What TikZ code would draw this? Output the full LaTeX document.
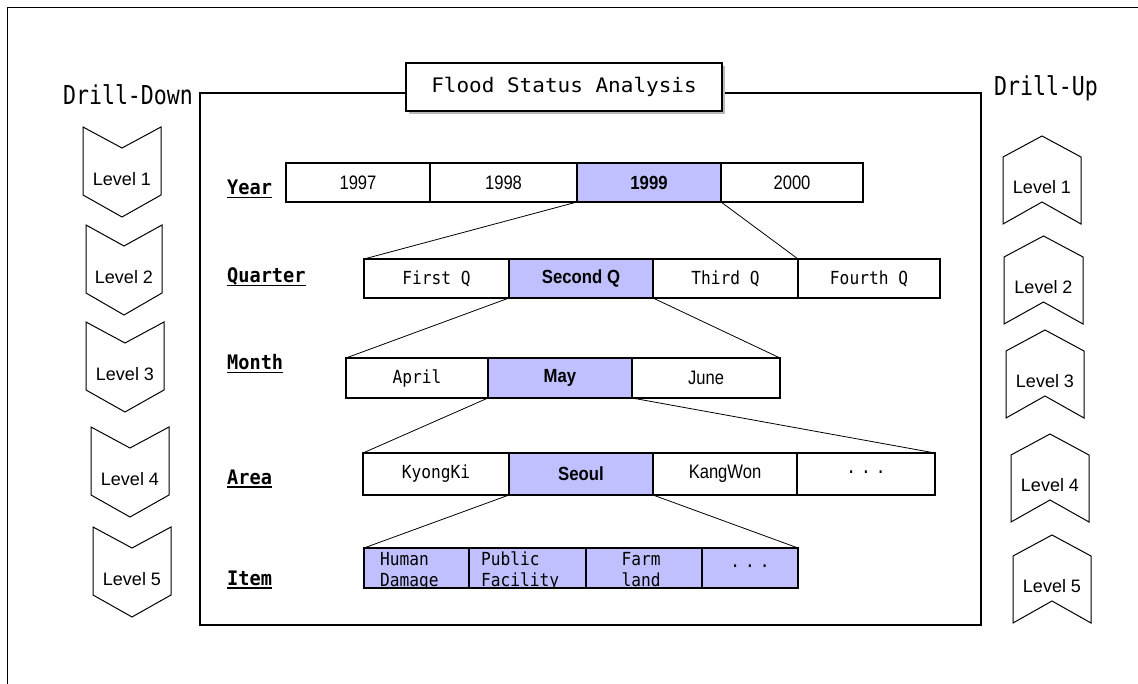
\documentclass[tikz,border=0pt]{standalone}
\usepackage{fontspec}
\setmainfont{Liberation Sans}
\newfontfamily\sansc{Liberation Sans}[FakeStretch=0.85]
\newfontfamily\sansbc{Liberation Sans Bold}[FakeStretch=0.88]
\newfontfamily\monoc{DejaVu Sans Mono}[FakeStretch=0.9]
\newfontfamily\headf{DejaVu Sans Mono}[FakeStretch=0.83]
\newfontfamily\titlef{DejaVu Sans Mono}[FakeStretch=1.05]
\newfontfamily\labelf{DejaVu Sans Mono Bold}[FakeStretch=0.93]
\definecolor{pick}{RGB}{192,192,255}
% underlined row label with a firm rule
\newcommand\rowlbl[1]{\setbox0\hbox{#1}\rlap{\raisebox{-3.5pt}{\rule{\wd0}{1.6pt}}}\box0}
\newcommand\dotsrow{\raisebox{3pt}{.\hspace{5pt}.\hspace{5pt}.}}

\tikzset{
  cell/.style={draw, line width=1.2pt, inner sep=0pt, outer sep=0pt, anchor=north west,
    fill=white, font=\sansc\fontsize{19.5}{22}\selectfont},
  sel/.style={fill=pick},
  mono/.style={font=\monoc\fontsize{18}{21}\selectfont},
  bold/.style={font=\sansbc\fontsize{19}{22}\selectfont},
  link/.style={line width=0.8pt},
  chev/.style={line width=1pt},
  lvl/.style={font=\fontsize{18}{21}\selectfont, inner sep=0pt},
  rowlabel/.style={anchor=base west, inner sep=0pt, font=\labelf\fontsize{20}{22}\selectfont},
  itemtext/.style={inner sep=0pt, font=\monoc\fontsize{18}{21}\selectfont},
  heading/.style={inner sep=0pt, font=\headf\fontsize{26}{28}\selectfont},
}

\begin{document}
\begin{tikzpicture}[x=1pt, y=-1pt]
\useasboundingbox (0,0) rectangle (1138,684);

% page frame
\draw[line width=1pt] (7,684) -- (7,8) -- (1138,8);

% main panel
\draw[line width=1.2pt] (200,93) rectangle (981,625);

% title with shadow
\fill[gray!55] (409,66) rectangle (725,114);
\node[draw, fill=white, line width=1.2pt, minimum width=316pt, minimum height=48pt,
  inner sep=0pt, font=\titlef\fontsize{20}{24}\selectfont] (title) at (564,87) {Flood Status Analysis};

% side headings
\node[heading] (ddhead) at (128,95) {Drill-Down};
\node[heading] (duhead) at (1046,88) {Drill-Up};

% drill-down chevrons
\foreach \n/\l/\r/\t in {1/83/161/127, 2/86/162/225, 3/86/164/322, 4/91/169/427, 5/93/171/527}{
  \pgfmathsetmacro\m{(\l+\r)/2}
  \draw[chev] (\l,\t) -- (\m,\t+21) -- (\r,\t) -- (\r,\t+68) -- (\m,\t+90) -- (\l,\t+68) -- cycle;
  \node[lvl] (down\n) at (\m,\t+52) {Level \n};
}

% drill-up chevrons
\foreach \n/\l/\r/\c in {1/1003/1081/157, 2/1004/1083/257, 3/1006/1084/351, 4/1011/1089/455, 5/1013/1091/556}{
  \pgfmathsetmacro\m{(\l+\r)/2}
  \draw[chev] (\l,\c) -- (\m,\c-21) -- (\r,\c) -- (\r,\c+67) -- (\m,\c+45) -- (\l,\c+67) -- cycle;
  \node[lvl] (up\n) at (\m,\c+30) {Level \n};
}

% row labels
\node[rowlabel] (lyear)    at (227,195) {\rowlbl{Year}};
\node[rowlabel] (lquarter) at (227,283) {\rowlbl{Quarter}};
\node[rowlabel] (lmonth)   at (227,370) {\rowlbl{Month}};
\node[rowlabel] (larea)    at (227,484) {\rowlbl{Area}};
\node[rowlabel] (litem)    at (227,585) {\rowlbl{Item}};

% year row
\node[cell, minimum width=144pt, minimum height=39pt] (y97) at (286,163) {1997};
\node[cell, minimum width=147pt, minimum height=39pt] (y98) at (430,163) {1998};
\node[cell, sel, bold, minimum width=144pt, minimum height=39pt] (y99) at (577,163) {1999};
\node[cell, minimum width=142pt, minimum height=39pt] (y00) at (721,163) {2000};

% quarter row
\node[cell, mono, minimum width=145pt, minimum height=39pt] (q1) at (364,259) {First Q};
\node[cell, sel, bold, minimum width=144pt, minimum height=39pt] (q2) at (509,259) {Second Q};
\node[cell, mono, minimum width=145pt, minimum height=39pt] (q3) at (653,259) {Third Q};
\node[cell, mono, minimum width=142pt, minimum height=39pt] (q4) at (798,259) {Fourth Q};

% month row
\node[cell, mono, minimum width=142pt, minimum height=40pt] (m1) at (346,358) {April};
\node[cell, sel, bold, minimum width=144pt, minimum height=40pt] (m2) at (488,358) {May};
\node[cell, minimum width=148pt, minimum height=40pt] (m3) at (632,358) {June};

% area row
\node[cell, mono, minimum width=146pt, minimum height=42pt] (a1) at (363,453) {KyongKi};
\node[cell, sel, bold, minimum width=144pt, minimum height=42pt] (a2) at (509,453) {Seoul};
\node[cell, minimum width=144pt, minimum height=42pt] (a3) at (653,453) {KangWon};
\node[cell, mono, minimum width=138pt, minimum height=42pt] (a4) at (797,453) {\dotsrow};

% item row
\node[cell, sel, minimum width=105pt, minimum height=40pt] (i1) at (364,548) {};
\node[cell, sel, minimum width=117pt, minimum height=40pt] (i2) at (469,548) {};
\node[cell, sel, minimum width=116pt, minimum height=40pt] (i3) at (586,548) {};
\node[cell, sel, minimum width=96pt, minimum height=40pt] (i4) at (702,548) {};
\begin{scope}
  \clip (i1.north west) rectangle (i4.south east);
  \node[itemtext, anchor=base west] (i1a) at (380,565) {Human};
  \node[itemtext, anchor=base west] (i1b) at (380,586) {Damage};
  \node[itemtext, anchor=base west] (i2a) at (481,565) {Public};
  \node[itemtext, anchor=base west] (i2b) at (481,586) {Facility};
  \node[itemtext, anchor=base] (i3a) at (641,565) {Farm};
  \node[itemtext, anchor=base] (i3b) at (641,586) {land};
  \node[itemtext] (i4a) at (750,568) {\dotsrow};
\end{scope}
\draw[line width=1.2pt] (i1.south west) -- (i4.south east);

% drill-down links
\draw[link] (y99.south west) -- (q1.north west);
\draw[link] (y99.south east) -- (q4.north west);
\draw[link] (q2.south west) -- (m1.north west);
\draw[link] (q2.south east) -- (m3.north east);
\draw[link] (m2.south west) -- (a1.north west);
\draw[link] (m2.south east) -- (a4.north east);
\draw[link] (a2.south west) -- (i1.north west);
\draw[link] (a2.south east) -- (i4.north east);
\end{tikzpicture}
\end{document}
